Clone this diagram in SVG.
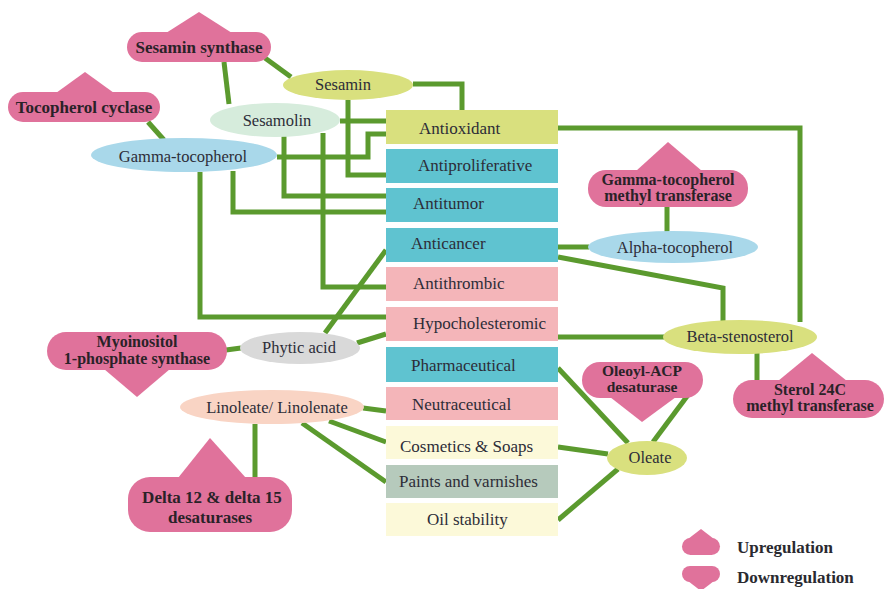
<svg xmlns="http://www.w3.org/2000/svg" width="887" height="589" viewBox="0 0 887 589" font-family="Liberation Serif, Times New Roman, serif">
<defs>
<style>
.c{fill:none;stroke:#5b9a2e;stroke-width:5;stroke-linejoin:miter}
.enz{fill:#e0729b}
.et{font-weight:bold;font-size:16px;fill:#2a2228;text-anchor:middle}
.nt{font-size:16.5px;fill:#2d2d38;text-anchor:middle}
.bt{font-size:17px;fill:#2d2d38}
.yg{fill:#d9e07e}
.bl{fill:#a9d8ea}
.teal{fill:#5fc3d0}
.pk{fill:#f4b5b9}
.ly{fill:#fcf9d9}
.gg{fill:#b6cabc}
.lt{font-weight:bold;font-size:17px;fill:#2a2a30}
</style>
</defs>
<rect width="887" height="589" fill="#ffffff"/>
<g id="connectors">
<path class="c" d="M265,58 L291,77"/>
<path class="c" d="M224,62 L229,104"/>
<path class="c" d="M148,122 L164,140"/>
<path class="c" d="M413,84 H462 V110"/>
<path class="c" d="M348,100 V175 H386"/>
<path class="c" d="M340,121 H386"/>
<path class="c" d="M277,157 H368 V134 H386"/>
<path class="c" d="M284,136 V196 H386"/>
<path class="c" d="M323,133 V287 H386"/>
<path class="c" d="M233,171 V212 H386"/>
<path class="c" d="M200,172 V317 H386"/>
<path class="c" d="M325,333 L386,250"/>
<path class="c" d="M357,343 L386,334"/>
<path class="c" d="M226,350 L241,348"/>
<path class="c" d="M363,408 L386,411"/>
<path class="c" d="M329,421 L386,442"/>
<path class="c" d="M302,423 L386,482"/>
<path class="c" d="M255,424 V477"/>
<path class="c" d="M558,368 L628,443"/>
<path class="c" d="M688,395 L653,442"/>
<path class="c" d="M558,447 L608,454"/>
<path class="c" d="M558,520 L618,469"/>
<path class="c" d="M558,128 H800 V322"/>
<path class="c" d="M667,207 V232"/>
<path class="c" d="M558,247 H589"/>
<path class="c" d="M558,257 L723,288 V321"/>
<path class="c" d="M558,337 H664"/>
<path class="c" d="M757,353 V381"/>
</g>
<g id="box-antioxidant"><rect class="yg" x="386" y="110" width="172" height="34"/><text class="bt" x="419" y="134">Antioxidant</text></g>
<g id="box-antiproliferative"><rect class="teal" x="386" y="149" width="172" height="34"/><text class="bt" x="418" y="171">Antiproliferative</text></g>
<g id="box-antitumor"><rect class="teal" x="386" y="188" width="172" height="34"/><text class="bt" x="413" y="209">Antitumor</text></g>
<g id="box-anticancer"><rect class="teal" x="386" y="228" width="172" height="34"/><text class="bt" x="411" y="249">Anticancer</text></g>
<g id="box-antithrombic"><rect class="pk" x="386" y="267" width="172" height="34"/><text class="bt" x="413" y="289">Antithrombic</text></g>
<g id="box-hypocholesteromic"><rect class="pk" x="386" y="307" width="172" height="34"/><text class="bt" x="413" y="329">Hypocholesteromic</text></g>
<g id="box-pharmaceutical"><rect class="teal" x="386" y="347" width="172" height="35"/><text class="bt" x="411" y="371">Pharmaceutical</text></g>
<g id="box-neutraceutical"><rect class="pk" x="386" y="387" width="172" height="33"/><text class="bt" x="412" y="410">Neutraceutical</text></g>
<g id="box-cosmetics"><rect class="ly" x="386" y="426" width="172" height="33"/><text class="bt" x="400" y="452">Cosmetics &amp; Soaps</text></g>
<g id="box-paints"><rect class="gg" x="386" y="465" width="172" height="33"/><text class="bt" x="399" y="487">Paints and varnishes</text></g>
<g id="box-oil"><rect class="ly" x="386" y="503" width="172" height="33"/><text class="bt" x="427" y="525">Oil stability</text></g>

<g id="sesamin"><ellipse class="yg" cx="348" cy="85" rx="65" ry="15"/><text class="nt" x="343" y="90">Sesamin</text></g>
<g id="sesamolin"><ellipse fill="#d6ecdc" cx="275" cy="120" rx="65" ry="17"/><text class="nt" x="277" y="126">Sesamolin</text></g>
<g id="gamma-tocopherol"><ellipse class="bl" cx="184" cy="155" rx="93" ry="17"/><text class="nt" x="183" y="162">Gamma-tocopherol</text></g>
<g id="alpha-tocopherol"><ellipse class="bl" cx="673" cy="247" rx="85" ry="16"/><text class="nt" x="675" y="253">Alpha-tocopherol</text></g>
<g id="beta-stenosterol"><ellipse class="yg" cx="740" cy="337" rx="77" ry="17"/><text class="nt" x="740" y="342">Beta-stenosterol</text></g>
<g id="phytic-acid"><ellipse fill="#d9d9d9" cx="300" cy="348" rx="60" ry="16"/><text class="nt" x="299" y="353">Phytic acid</text></g>
<g id="linoleate"><ellipse fill="#f9d4c4" cx="272" cy="407" rx="92" ry="17"/><text class="nt" x="277" y="413">Linoleate/ Linolenate</text></g>
<g id="oleate"><ellipse class="yg" cx="647" cy="458" rx="40" ry="17"/><text class="nt" x="650" y="463">Oleate</text></g>

<g id="sesamin-synthase"><rect class="enz" x="127" y="32" width="144" height="30" rx="15"/><polygon class="enz" points="166,33 199,12 232,33"/><text class="et" x="199" y="53" style="font-size:17px">Sesamin synthase</text></g>
<g id="tocopherol-cyclase"><rect class="enz" x="8" y="92" width="152" height="30" rx="15"/><polygon class="enz" points="56,93 85,72 114,93"/><text class="et" x="84" y="113" style="font-size:17px">Tocopherol cyclase</text></g>
<g id="gtmt"><rect class="enz" x="588" y="170" width="160" height="37" rx="18"/><polygon class="enz" points="636,171 668,142 702,171"/><text class="et" x="668" y="185">Gamma-tocopherol</text><text class="et" x="668" y="201">methyl transferase</text></g>
<g id="myoinositol"><rect class="enz" x="47" y="332" width="180" height="38" rx="19"/><polygon class="enz" points="104,369 137,397 170,369"/><text class="et" x="137" y="347">Myoinositol</text><text class="et" x="137" y="364">1-phosphate synthase</text></g>
<g id="delta-desaturases"><rect class="enz" x="128" y="477" width="164" height="55" rx="22"/><polygon class="enz" points="178,478 210,438 246,478"/><text class="et" x="212" y="503" style="font-size:17px">Delta 12 &amp; delta 15</text><text class="et" x="210" y="523" style="font-size:17px">desaturases</text></g>
<g id="oleoyl-acp"><rect class="enz" x="582" y="362" width="121" height="36" rx="18"/><polygon class="enz" points="610,397 642,422 676,397"/><text class="et" x="642" y="376" style="font-size:15.5px">Oleoyl-ACP</text><text class="et" x="642" y="392" style="font-size:15.5px">desaturase</text></g>
<g id="sterol-24c"><rect class="enz" x="733" y="380" width="151" height="38" rx="19"/><polygon class="enz" points="778,381 812,353 847,381"/><text class="et" x="810" y="395">Sterol 24C</text><text class="et" x="810" y="411">methyl transferase</text></g>

<g id="legend">
<rect class="enz" x="682" y="538" width="38" height="17" rx="8.5"/><polygon class="enz" points="688,539 701,529 714,539"/>
<text class="lt" x="737" y="553">Upregulation</text>
<rect class="enz" x="682" y="566" width="38" height="16" rx="8"/><polygon class="enz" points="688,581 701,591 714,581"/>
<text class="lt" x="737" y="583">Downregulation</text>
</g>
</svg>
